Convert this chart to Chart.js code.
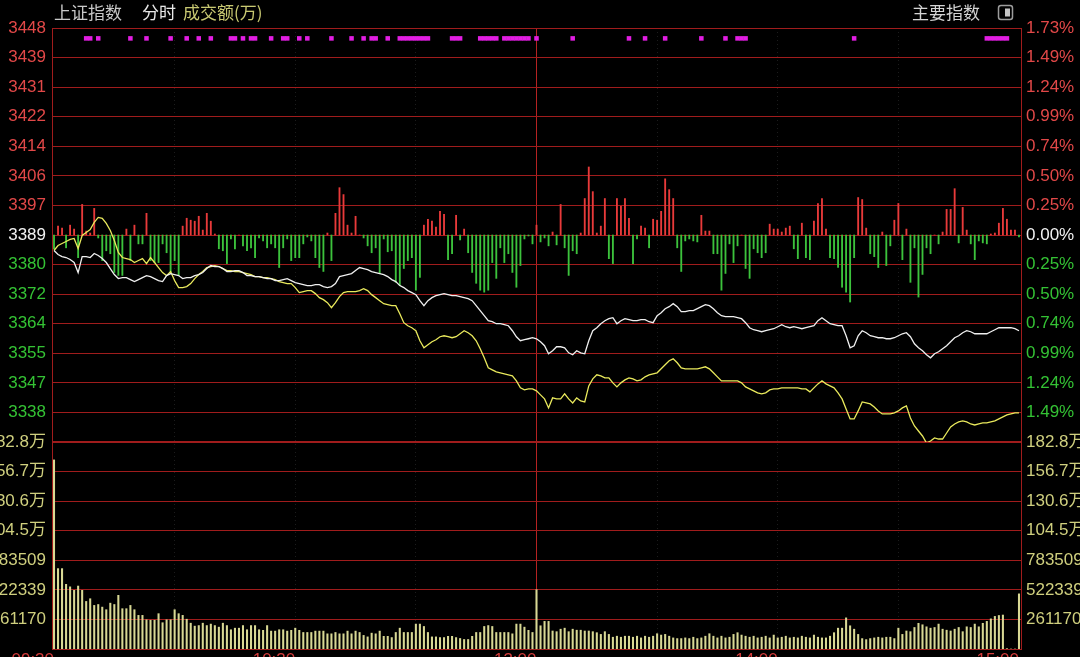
<!DOCTYPE html>
<html><head><meta charset="utf-8">
<script src="https://cdn.jsdelivr.net/npm/chart.js@4.4.1/dist/chart.umd.min.js"></script>
<style>html,body{margin:0;padding:0;background:#000;overflow:hidden}canvas{display:block}</style>
</head><body>
<canvas id="c" width="1080" height="657"></canvas>
<script>
// ---------- data ----------
const PREV_CLOSE = 3388.85;      // 昨收
const PRICE_STEP = 8.40;         // one grid row in index points
const PCT_STEP = 0.2475;         // one grid row in percent
const VOL_STEP = 261169.7;       // one grid row in volume
const MARKER_LEVEL = 3444.7;

const minutes = Array.from({length: 241}, (_, i) => i); // 09:30 .. 15:00, one per minute
const timeTicks = [0, 30, 60, 90, 120, 150, 180, 210, 240];
const timeTickLabels = ['09:30', '', '10:30', '', '13:00', '', '14:00', '', '15:00'];

const priceTickLabels = ['', '3338', '3347', '3355', '3364', '3372', '3380', '3389', '3397', '3406', '3414', '3422', '3431', '3439', '3448'];
const pctTickLabels = ['', '1.49%', '1.24%', '0.99%', '0.74%', '0.50%', '0.25%', '0.00%', '0.25%', '0.50%', '0.74%', '0.99%', '1.24%', '1.49%', '1.73%'];
const volTickLabels = ['261170', '522339', '783509', '104.5万', '130.6万', '156.7万', '182.8万'];

const indexLine = [
3384.44,3383.30,3382.73,3382.45,3381.88,3381.03,3378.18,3382.73,3382.73,3382.45,
3383.59,3383.02,3382.16,3381.03,3379.32,3377.61,3376.47,3376.75,3376.75,3376.18,
3375.61,3376.18,3376.75,3377.32,3377.04,3376.47,3375.90,3375.61,3377.32,3377.89,
3377.61,3377.32,3376.47,3376.75,3376.75,3377.32,3377.61,3378.18,3379.32,3380.17,
3379.89,3379.89,3379.32,3378.46,3378.46,3378.75,3378.75,3378.18,3377.32,3377.32,
3377.04,3377.04,3376.75,3376.47,3376.47,3375.90,3375.90,3376.18,3376.47,3375.90,
3375.33,3375.04,3374.76,3374.48,3374.48,3374.76,3374.76,3374.19,3373.91,3374.19,
3375.04,3377.04,3377.32,3377.61,3377.89,3378.75,3379.60,3379.32,3379.03,3378.46,
3378.18,3377.89,3377.61,3377.04,3376.18,3375.61,3374.48,3373.91,3373.05,3372.48,
3371.91,3370.20,3368.78,3370.20,3371.06,3371.63,3371.91,3372.20,3371.91,3371.63,
3371.63,3371.34,3371.06,3370.77,3370.20,3368.78,3367.36,3365.93,3364.51,3364.22,
3363.65,3363.65,3363.37,3363.08,3361.66,3359.95,3358.81,3359.10,3359.38,3359.67,
3359.38,3358.53,3357.39,3355.11,3355.96,3357.10,3357.10,3356.82,3355.39,3354.82,
3355.96,3355.39,3355.11,3358.81,3361.66,3362.51,3363.65,3364.51,3365.08,3365.36,
3363.65,3364.51,3365.08,3364.79,3364.51,3364.51,3364.79,3364.79,3364.22,3363.94,
3365.93,3366.79,3367.92,3368.49,3369.35,3368.49,3367.07,3367.07,3367.36,3367.36,
3367.92,3368.49,3369.06,3368.78,3367.92,3366.79,3365.93,3365.65,3365.65,3365.65,
3365.36,3365.08,3363.94,3362.51,3361.94,3361.66,3361.37,3361.66,3361.94,3362.23,
3362.80,3363.37,3362.80,3362.51,3362.80,3362.51,3362.23,3362.51,3362.80,3363.08,
3364.51,3365.36,3364.51,3363.65,3363.37,3363.08,3363.08,3360.23,3356.82,3357.39,
3360.23,3361.66,3361.09,3360.23,3359.95,3359.67,3359.67,3359.38,3359.38,3359.67,
3360.23,3360.80,3361.09,3359.95,3357.96,3356.82,3355.96,3354.82,3353.97,3355.11,
3355.68,3356.53,3357.39,3358.53,3359.67,3360.23,3361.09,3361.66,3361.37,3360.80,
3360.80,3360.80,3360.80,3361.37,3361.94,3362.51,3362.51,3362.51,3362.51,3362.23,
3361.66];

const equalWeightLine = [
3384.44,3385.87,3386.44,3387.01,3387.58,3387.86,3385.01,3388.72,3389.57,3390.42,
3392.42,3393.84,3393.56,3392.13,3390.14,3387.29,3383.87,3382.45,3382.16,3381.88,
3381.03,3381.60,3382.16,3380.74,3382.45,3381.03,3379.60,3378.18,3377.32,3378.46,
3375.90,3373.91,3373.91,3374.19,3375.04,3376.47,3377.61,3378.46,3379.60,3379.89,
3380.17,3379.89,3379.32,3378.75,3378.75,3378.46,3378.46,3378.18,3377.89,3377.61,
3377.04,3377.04,3376.75,3376.75,3376.47,3376.18,3375.61,3375.33,3375.04,3375.04,
3373.91,3372.48,3372.77,3373.05,3373.05,3372.20,3371.06,3370.49,3369.63,3368.21,
3369.63,3371.34,3372.48,3372.77,3372.77,3372.77,3373.05,3373.62,3373.05,3371.91,
3371.06,3370.20,3369.35,3369.06,3368.78,3368.78,3366.50,3363.94,3363.08,3362.51,
3361.66,3358.81,3356.82,3357.67,3358.53,3359.10,3359.95,3360.23,3359.95,3359.67,
3359.95,3360.80,3361.66,3361.09,3360.23,3358.81,3356.53,3353.97,3351.12,3350.55,
3349.98,3349.70,3349.41,3349.13,3348.84,3347.42,3345.43,3344.86,3345.14,3345.14,
3344.57,3343.43,3342.29,3339.73,3342.58,3342.29,3342.29,3343.72,3342.29,3341.15,
3342.58,3341.72,3341.44,3345.99,3347.99,3349.13,3348.84,3348.27,3348.27,3346.85,
3345.71,3346.85,3347.70,3348.27,3347.99,3347.42,3347.70,3348.56,3349.13,3349.41,
3349.70,3350.84,3351.98,3353.12,3353.68,3352.55,3351.12,3350.84,3350.84,3350.84,
3350.84,3351.12,3351.41,3350.84,3349.70,3348.56,3347.42,3347.42,3347.42,3347.42,
3347.42,3346.85,3345.71,3345.14,3344.57,3344.00,3343.72,3344.00,3344.86,3345.14,
3345.14,3345.43,3345.43,3345.43,3345.43,3345.43,3345.14,3345.14,3344.29,3345.43,
3346.56,3347.42,3346.56,3345.99,3345.43,3344.00,3342.29,3339.44,3336.60,3336.60,
3338.88,3341.44,3341.15,3340.87,3340.01,3338.88,3338.02,3338.02,3338.02,3338.31,
3338.88,3339.73,3340.30,3336.88,3334.60,3333.18,3331.76,3329.76,3330.33,3331.19,
3330.90,3330.90,3332.61,3334.32,3335.17,3335.74,3336.03,3335.74,3335.17,3334.89,
3335.17,3335.46,3335.46,3335.74,3336.03,3336.60,3337.17,3337.74,3338.02,3338.31,
3338.31];

// buy/sell strength bars around the zero line (arbitrary units)
const strength = [
-14,9,7,-13,10,6,-23,31,4,2,
27,-3,-26,-16,-19,-38,-41,-41,6,-26,
10,-9,-9,22,-26,-28,-28,-9,-18,-39,
-26,-41,9,17,15,14,19,5,22,14,
1,-14,-16,-29,-4,-14,0,-11,-16,-13,
-23,-3,-6,-13,-9,-13,-33,-13,-4,-26,
-23,-23,-9,-2,-6,-23,-33,-37,2,-26,
22,48,41,10,2,19,0,-3,-11,-18,
-13,-39,-4,-17,-16,-48,-51,-34,-26,-23,
-56,-43,10,16,14,8,24,21,-25,-19,
20,-5,6,-18,-38,-49,-56,-58,-56,-28,
-44,-13,-28,-19,-38,-53,-31,-4,-1,-9,
10,-7,-3,-11,3,-10,31,-13,-41,-16,
-19,2,37,69,44,2,9,37,-24,-29,
37,29,37,17,-29,-4,9,7,-13,16,
15,24,57,46,37,-13,-37,-6,-4,-6,
-7,20,4,4,-19,-19,-56,-39,-9,-28,
-11,0,-34,-44,-14,-18,-23,-18,11,6,
6,3,7,9,-14,-24,12,-23,-25,14,
32,37,6,-23,-24,-33,-53,-58,-68,-23,
38,36,7,-19,-22,-33,3,-31,-11,15,
32,-25,6,-48,-13,-63,-40,-13,-19,0,
-9,3,26,26,47,-8,28,5,-9,-25,
-6,-8,-9,1,2,12,27,16,5,5,
-2];

const volume = [
1670000,710000,710000,571000,549000,518000,556000,518000,420000,444000,
385000,393000,370000,347000,405000,393000,474000,356000,356000,385000,
347000,297000,297000,258000,254000,254000,312000,232000,258000,258000,
347000,312000,297000,263000,228000,202000,207000,228000,207000,220000,
207000,193000,228000,207000,170000,184000,184000,207000,170000,207000,
207000,170000,165000,207000,158000,158000,170000,170000,158000,165000,
184000,165000,146000,146000,146000,158000,158000,158000,134000,134000,
146000,134000,134000,158000,134000,158000,146000,120000,107000,140000,
134000,158000,112000,112000,101000,146000,184000,146000,146000,146000,
220000,220000,199000,146000,107000,107000,101000,101000,112000,112000,
101000,93000,84000,84000,112000,146000,146000,199000,207000,199000,
146000,146000,146000,146000,134000,220000,220000,193000,165000,146000,
524000,205000,244000,244000,159000,153000,175000,184000,153000,175000,
166000,166000,159000,159000,153000,144000,129000,153000,129000,104000,
113000,104000,113000,113000,104000,113000,98000,113000,104000,113000,
135000,123000,129000,113000,98000,92000,92000,98000,92000,104000,
92000,98000,113000,135000,113000,98000,113000,98000,104000,129000,
144000,123000,113000,104000,113000,98000,104000,113000,98000,123000,
98000,104000,113000,98000,104000,98000,113000,104000,98000,123000,
104000,98000,98000,113000,144000,184000,184000,275000,205000,175000,
129000,92000,83000,92000,98000,104000,98000,104000,104000,92000,
184000,129000,159000,153000,190000,227000,214000,196000,184000,190000,
220000,175000,166000,159000,175000,190000,153000,196000,190000,220000,
196000,227000,244000,266000,288000,296000,300000,3000,0,0,
487000];

const markerMinutes = [8,9,11,19,23,29,33,36,39,44,45,47,49,50,54,57,58,61,63,69,74,
77,79,80,83,86,87,88,89,90,91,92,93,99,100,101,106,107,108,109,110,112,113,114,115,116,117,118,120,
129,143,147,152,161,167,170,171,172,199,232,233,234,235,236,237];

// ---------- style ----------
const GRID = '#a01c1c';
const RED_T = '#e24848', GREEN_T = '#34c234', WHITE_T = '#f2f2f2', VOL_T = '#cfcf7e';
const tickFont = {family: "'Liberation Sans', Arial, 'Noto Sans CJK SC', sans-serif", size: 17};
const signColor = k => k > 0 ? RED_T : (k < 0 ? GREEN_T : WHITE_T);
const fixV = w => s => { s.width = w; s.paddingTop = 0; s.paddingBottom = 0; };

const headerPlugin = {
  id: 'header',
  afterDraw(chart) {
    const c = chart.ctx;
    c.save();
    c.font = '17px "Noto Sans CJK SC", sans-serif';
    c.textBaseline = 'middle';
    c.textAlign = 'left';
    c.fillStyle = '#c9c9c9'; c.fillText('上证指数', 54, 13);
    c.fillStyle = '#e8e8e8'; c.fillText('分时', 142, 13);
    c.fillStyle = '#c9c972'; c.fillText('成交额(万)', 183, 13);
    c.textAlign = 'right';
    c.fillStyle = '#d4d4d4'; c.fillText('主要指数', 980, 13);
    // small panel icon
    c.strokeStyle = '#9c9c9c'; c.lineWidth = 1.5;
    c.beginPath();
    if (c.roundRect) c.roundRect(998.5, 5.5, 14, 14, 2.5); else c.rect(998.5, 5.5, 14, 14);
    c.stroke();
    c.fillStyle = '#c4c4c4'; c.fillRect(1005, 8.5, 5, 8);
    c.restore();
  }
};

new Chart(document.getElementById('c'), {
  type: 'bar',
  data: {
    labels: minutes,
    datasets: [
      {type: 'line', label: '上证指数', data: indexLine, yAxisID: 'yPrice', borderColor: '#efefef', borderWidth: 1.3, pointRadius: 0, tension: 0, order: 0},
      {type: 'line', label: '均价', data: equalWeightLine, yAxisID: 'yPrice', borderColor: '#e9e95c', borderWidth: 1.3, pointRadius: 0, tension: 0, order: 0},
      {type: 'line', label: '异动', data: markerMinutes.map(m => ({x: m, y: MARKER_LEVEL})), yAxisID: 'yPrice', showLine: false,
        pointStyle: 'rect', pointRadius: 3.2, pointBackgroundColor: '#e21ee2', pointBorderWidth: 0, order: 0},
      {type: 'bar', label: '强弱', data: strength, yAxisID: 'yStr', grouped: false, barThickness: 1.2,
        backgroundColor: c => (c.raw >= 0 ? '#e83a3a' : '#3cc23c'), order: 1},
      {type: 'bar', label: '成交额', data: volume, yAxisID: 'yVol', grouped: false, barThickness: 1.4,
        backgroundColor: '#d8d894', order: 1}
    ]
  },
  options: {
    responsive: false, animation: false, devicePixelRatio: 1, events: [],
    layout: {padding: {top: 28, left: 0, right: 0, bottom: 0}},
    plugins: {legend: {display: false}, tooltip: {enabled: false}, title: {display: false}},
    scales: {
      x: {
        type: 'linear', min: -0.5, max: 240.5, offset: false,
        afterBuildTicks: s => { s.ticks = timeTicks.map(v => ({value: v})); },
        afterFit: s => { s.height = 8; s.paddingLeft = 0; s.paddingRight = 0; },
        ticks: {autoSkip: false, maxRotation: 0, minRotation: 0, align: 'end', padding: 1, font: tickFont, color: '#d43c3c',
          callback: (v, i) => timeTickLabels[i]},
        grid: {offset: false, drawTicks: false,
          color: c => { const v = c.tick ? c.tick.value : -1; return v === 120 ? '#b52222' : ((v === 0 || v === 240) ? 'rgba(0,0,0,0)' : 'rgba(100,100,100,0.28)'); }},
        border: {display: true, color: GRID, dash: c => (c.tick && c.tick.value !== 120 ? [1, 3] : [])}
      },
      yPrice: {
        type: 'linear', position: 'left', stack: 'L', stackWeight: 14, weight: 2,
        min: PREV_CLOSE - 7 * PRICE_STEP, max: PREV_CLOSE + 7 * PRICE_STEP,
        afterBuildTicks: s => { s.ticks = priceTickLabels.map((_, i) => ({value: PREV_CLOSE + (i - 7) * PRICE_STEP})); },
        afterFit: fixV(52),
        ticks: {autoSkip: false, padding: 6, font: tickFont, callback: (v, i) => priceTickLabels[i], color: c => signColor(c.index - 7)},
        grid: {color: GRID, drawTicks: false, lineWidth: c => (c.index === 0 ? 2 : 1)},
        border: {display: true, color: GRID}
      },
      yVol: {
        type: 'linear', position: 'left', stack: 'L', stackWeight: 7, weight: 1,
        min: 0, max: 7 * VOL_STEP,
        afterBuildTicks: s => { s.ticks = volTickLabels.map((_, i) => ({value: (i + 1) * VOL_STEP})); },
        afterFit: fixV(52),
        ticks: {autoSkip: false, padding: 6, font: tickFont, color: VOL_T, callback: (v, i) => volTickLabels[i]},
        grid: {color: GRID, drawTicks: false, lineWidth: c => (c.index === 6 ? 2 : 1)},
        border: {display: true, color: GRID}
      },
      yStr: {type: 'linear', position: 'left', display: false, min: -420, max: 210},
      yPct: {
        type: 'linear', position: 'right', stack: 'R', stackWeight: 14, weight: 1,
        min: -7 * PCT_STEP, max: 7 * PCT_STEP,
        afterBuildTicks: s => { s.ticks = pctTickLabels.map((_, i) => ({value: (i - 7) * PCT_STEP})); },
        afterFit: fixV(59),
        ticks: {autoSkip: false, padding: 5, font: tickFont, callback: (v, i) => pctTickLabels[i], color: c => signColor(c.index - 7)},
        grid: {drawOnChartArea: false, drawTicks: false},
        border: {display: true, color: GRID}
      },
      yVolR: {
        type: 'linear', position: 'right', stack: 'R', stackWeight: 7, weight: 2,
        min: 0, max: 7 * VOL_STEP,
        afterBuildTicks: s => { s.ticks = volTickLabels.map((_, i) => ({value: (i + 1) * VOL_STEP})); },
        afterFit: fixV(59),
        ticks: {autoSkip: false, padding: 5, font: tickFont, color: VOL_T, callback: (v, i) => volTickLabels[i]},
        grid: {drawOnChartArea: false, drawTicks: false},
        border: {display: true, color: GRID}
      }
    }
  },
  plugins: [headerPlugin]
});
</script>
</body></html>
